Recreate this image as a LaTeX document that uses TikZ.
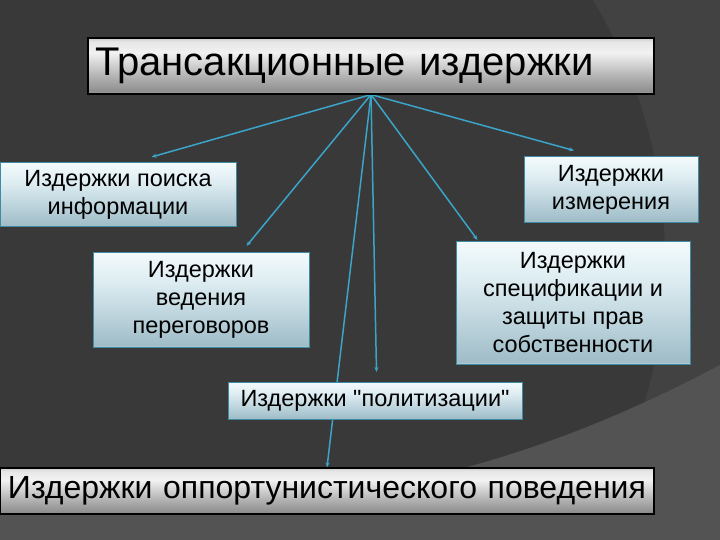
\documentclass[tikz,border=0pt]{standalone}
\usepackage{fontspec}
\setmainfont{Liberation Sans}
\newfontfamily\plainsans{Liberation Sans}
\usetikzlibrary{arrows.meta}
\definecolor{bgdark}{HTML}{393939}
\definecolor{bgmid}{HTML}{424242}
\definecolor{bglight}{HTML}{535353}
\definecolor{connblue}{HTML}{3BA4C9}
\definecolor{boxedge}{HTML}{3F8BA3}
\definecolor{bB0}{HTML}{C9DDE4}
\definecolor{bB1}{HTML}{9FBCC7}
\definecolor{bB2}{HTML}{B9D1DA}
\definecolor{bB3}{HTML}{DEEDF2}
\definecolor{bB4}{HTML}{F3FAFC}
\definecolor{mE}{HTML}{D6D6D6}
\definecolor{mA}{HTML}{8E8E8E}
\definecolor{mB}{HTML}{B0B0B0}
\definecolor{mC}{HTML}{F2F2F2}
\definecolor{mD}{HTML}{E6E6E6}
\definecolor{mF}{HTML}{C9C9C9}
\pgfdeclareverticalshading{bluegrad}{100bp}{color(0bp)=(bB0); color(25bp)=(bB0); color(26bp)=(bB1); color(40bp)=(bB2); color(60bp)=(bB3); color(75bp)=(bB4); color(100bp)=(bB4)}
\pgfdeclareverticalshading{metal}{100bp}{color(0bp)=(mE); color(25bp)=(mE); color(27bp)=(mA); color(40bp)=(mB); color(62bp)=(mC); color(72bp)=(mD); color(75bp)=(mF); color(100bp)=(mF)}
\pgfdeclarelayer{bg}
\pgfdeclarelayer{lines}
\pgfsetlayers{bg,lines,main}
\begin{document}
\begin{tikzpicture}[x=1pt,y=-1pt,
  metalbox/.style={draw=black, line width=1.2pt, shading=metal, inner ysep=0pt, align=left},
  bluebox/.style={draw=boxedge, line width=1pt, shading=bluegrad, align=center,
    font=\fontsize{23.5}{28}\selectfont, inner sep=2pt},
  conn/.style={draw=connblue, line width=1.5pt, -{Stealth[length=5pt,width=4pt]}},
]
\useasboundingbox (0,0) rectangle (720,540);
\begin{pgfonlayer}{bg}
\fill[bgdark] (0,0) rectangle (720,540);
\begin{scope}
\clip (0,0) rectangle (720,540);
\fill[bgmid, even odd rule] (0,0) rectangle (720,540) (160,260) circle[radius=505];
\fill[bglight] (720,365) .. controls (620,418) and (530,452) .. (440,474) .. controls (300,500) and (150,505) .. (0,510) -- (0,540) -- (720,540) -- cycle;
\end{scope}
\end{pgfonlayer}

\node[metalbox, minimum width=566pt, minimum height=56pt, text width=552pt, inner xsep=7pt,
  font=\fontsize{40}{44}\selectfont] (title) at (371,66) {Трансакционные издержки};
\node[metalbox, minimum width=654pt, minimum height=46pt, text width=638pt, inner xsep=8pt,
  font=\fontsize{32}{36}\selectfont] (oppo) at (327,491) {Издержки оппортунистического поведения};

\node[bluebox, minimum width=236pt, minimum height=64pt] (poisk) at (118,195) {Издержки поиска\\информации};
\node[bluebox, minimum width=174pt, minimum height=66pt] (izmer) at (611,190) {Издержки\\измерения};
\node[bluebox, minimum width=216pt, minimum height=95pt] (vedenie) at (201,300) {Издержки\\ведения\\переговоров};
\node[bluebox, minimum width=234pt, minimum height=123pt] (spec) at (573,303) {Издержки\\спецификации и\\защиты прав\\собственности};
\node[bluebox, minimum width=294pt, minimum height=37pt, font=\plainsans\fontsize{23.5}{28}\selectfont] (polit) at (375,401) {Издержки "политизации"};

\coordinate (e1) at (151.5,157);
\coordinate (e2) at (246.5,246);
\coordinate (e3) at (376.5,372);
\coordinate (e5) at (477.5,240);
\coordinate (e6) at (574,150.5);

\begin{pgfonlayer}{lines}
\draw[conn] (title.south) -- (e1);
\draw[conn] (title.south) -- (e2);
\draw[conn] (title.south) -- (e3);
\draw[conn] (title.south) -- (oppo.north);
\draw[conn] (title.south) -- (e5);
\draw[conn] (title.south) -- (e6);
\end{pgfonlayer}
\end{tikzpicture}
\end{document}
